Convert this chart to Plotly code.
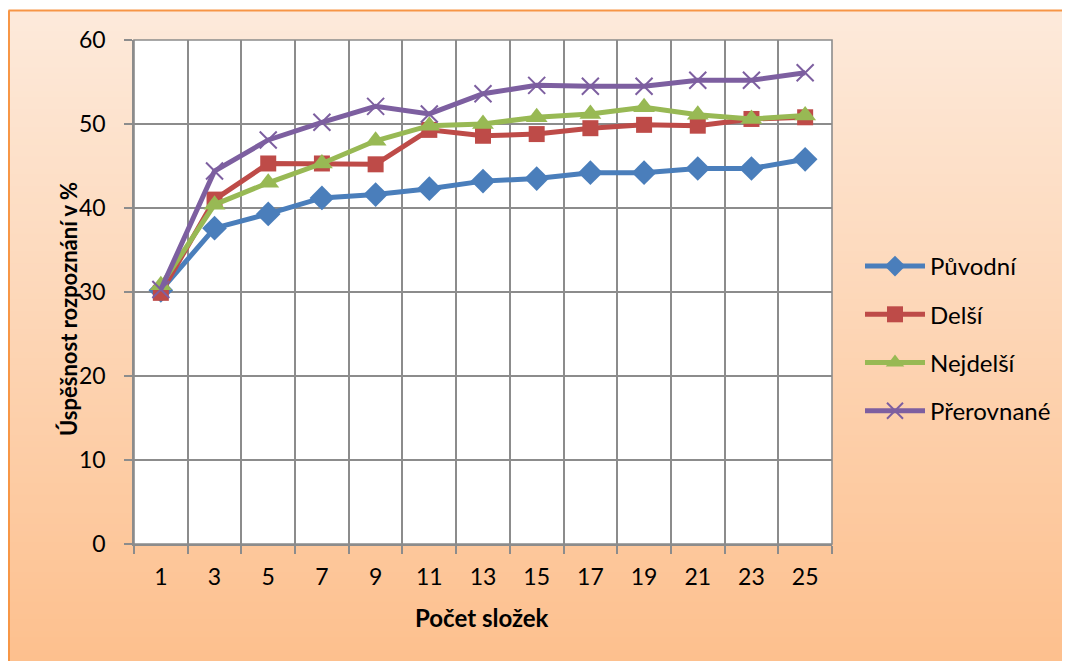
import plotly.graph_objects as go

# ---- data ----
categories = ["1", "3", "5", "7", "9", "11", "13", "15", "17", "19", "21", "23", "25"]
puvodni = [30.2, 37.6, 39.3, 41.2, 41.6, 42.3, 43.2, 43.5, 44.2, 44.2, 44.7, 44.7, 45.8]
delsi = [29.9, 41.0, 45.3, 45.3, 45.2, 49.3, 48.6, 48.8, 49.5, 49.9, 49.8, 50.6, 50.8]
nejdelsi = [30.8, 40.4, 43.0, 45.3, 48.0, 49.8, 50.0, 50.8, 51.2, 52.0, 51.1, 50.6, 51.0]
prerovnane = [30.3, 44.4, 48.1, 50.2, 52.1, 51.2, 53.6, 54.6, 54.5, 54.5, 55.2, 55.2, 56.1]
series_names = ["Původní", "Delší", "Nejdelší", "Přerovnané"]
y_title = "Úspěšnost rozpoznání v %"
x_title = "Počet složek"

# page body has an 8px margin, so the figure is 8px smaller than the window
OFF = 8
W, H = 1070 - OFF, 661 - OFF
FONT = "Lato, 'Open Sans', sans-serif"
FS = 23


def px(x):
    return (x - OFF) / W


def py(y):
    return 1 - (y - OFF) / H


styles = [
    dict(color="#4A7EBB", symbol="diamond", size=19),
    dict(color="#BE4B48", symbol="square", size=16),
    dict(color="#98B954", symbol="triangle-up", size=19),
    dict(color="#7D5FA0", symbol="x-thin", size=17),
]

fig = go.Figure()
for i, (name, vals) in enumerate(zip(series_names, [puvodni, delsi, nejdelsi, prerovnane])):
    s = styles[i]
    marker = dict(symbol=s["symbol"], size=s["size"], color=s["color"])
    if s["symbol"] == "x-thin":
        marker["line"] = dict(color=s["color"], width=2)
    fig.add_trace(go.Scatter(
        x=categories, y=vals, name=name, mode="lines+markers",
        line=dict(color=s["color"], width=5),
        marker=marker, legendgroup=name,
    ))

# ---- background gradient (decorative) ----
shapes = []
top = (253, 234, 219)
bot = (253, 192, 142)
n = 110
for k in range(n):
    t = k / (n - 1)
    c = tuple(round(top[j] + (bot[j] - top[j]) * t) for j in range(3))
    y0 = 1 - (k + 1) / n
    y1 = 1 - k / n
    shapes.append(dict(type="rect", xref="paper", yref="paper", x0=0, x1=1,
                       y0=y0 - 0.002, y1=y1, fillcolor="rgb(%d,%d,%d)" % c,
                       line=dict(width=0), layer="below"))
# white margin at top, orange border
shapes.append(dict(type="rect", xref="paper", yref="paper", x0=0, x1=1, y0=py(10), y1=1.01,
                   fillcolor="white", line=dict(width=0), layer="below"))
shapes.append(dict(type="line", xref="paper", yref="paper", x0=px(8.5), x1=1.01, y0=py(10.5), y1=py(10.5),
                   line=dict(color="#F79646", width=2)))
shapes.append(dict(type="line", xref="paper", yref="paper", x0=px(9), x1=px(9), y0=-0.01, y1=py(10.5),
                   line=dict(color="#F79646", width=2)))
# plot area white
x0p, x1p = px(134), px(832)
y0p, y1p = py(544), py(40)
shapes.append(dict(type="rect", xref="paper", yref="paper", x0=x0p, x1=x1p, y0=y0p, y1=y1p,
                   fillcolor="white", line=dict(width=0), layer="below"))
shapes.append(dict(type="rect", xref="x domain", yref="y domain", x0=0, x1=1, y0=0, y1=1,
                   fillcolor="rgba(0,0,0,0)", line=dict(color="#8C8C8C", width=1.6), layer="above"))

annotations = [
    dict(text="<b>" + y_title + "</b>", xref="paper", yref="paper", x=px(68), y=py(309),
         xanchor="center", yanchor="middle", textangle=-90, showarrow=False,
         font=dict(size=FS - 1, family=FONT, color="black")),
    dict(text="<b>" + x_title + "</b>", xref="paper", yref="paper", x=px(482), y=py(617),
         xanchor="center", yanchor="middle", showarrow=False,
         font=dict(size=FS + 1, family=FONT, color="black")),
]

grid = "#8C8C8C"
axis_common = dict(showgrid=True, gridcolor=grid, gridwidth=1.6,
                   showline=True, linecolor=grid, linewidth=1.6,
                   ticks="outside", ticklen=8, tickcolor=grid, tickwidth=1.6,
                   tickfont=dict(size=FS, family=FONT, color="black"),
                   zeroline=False, automargin=False)

fig.update_layout(
    width=W, height=H,
    margin=dict(l=0, r=0, t=0, b=0, autoexpand=False),
    paper_bgcolor="white", plot_bgcolor="rgba(0,0,0,0)",
    shapes=shapes, annotations=annotations,
    font=dict(family=FONT, size=FS, color="black"),
    showlegend=True,
    legend=dict(x=px(860), y=py(244), xanchor="left", yanchor="top",
                bgcolor="rgba(0,0,0,0)", font=dict(size=FS + 1, family=FONT),
                tracegroupgap=14, itemwidth=60),
    xaxis=dict(domain=[x0p, x1p], type="category", tickson="boundaries",
               range=[-0.5, len(categories) - 0.5],
               ticklabelstandoff=12, **axis_common),
    yaxis=dict(domain=[y0p, y1p], range=[0, 60], dtick=10,
               ticklabelstandoff=14, **axis_common),
)

fig.write_html("out.html")
